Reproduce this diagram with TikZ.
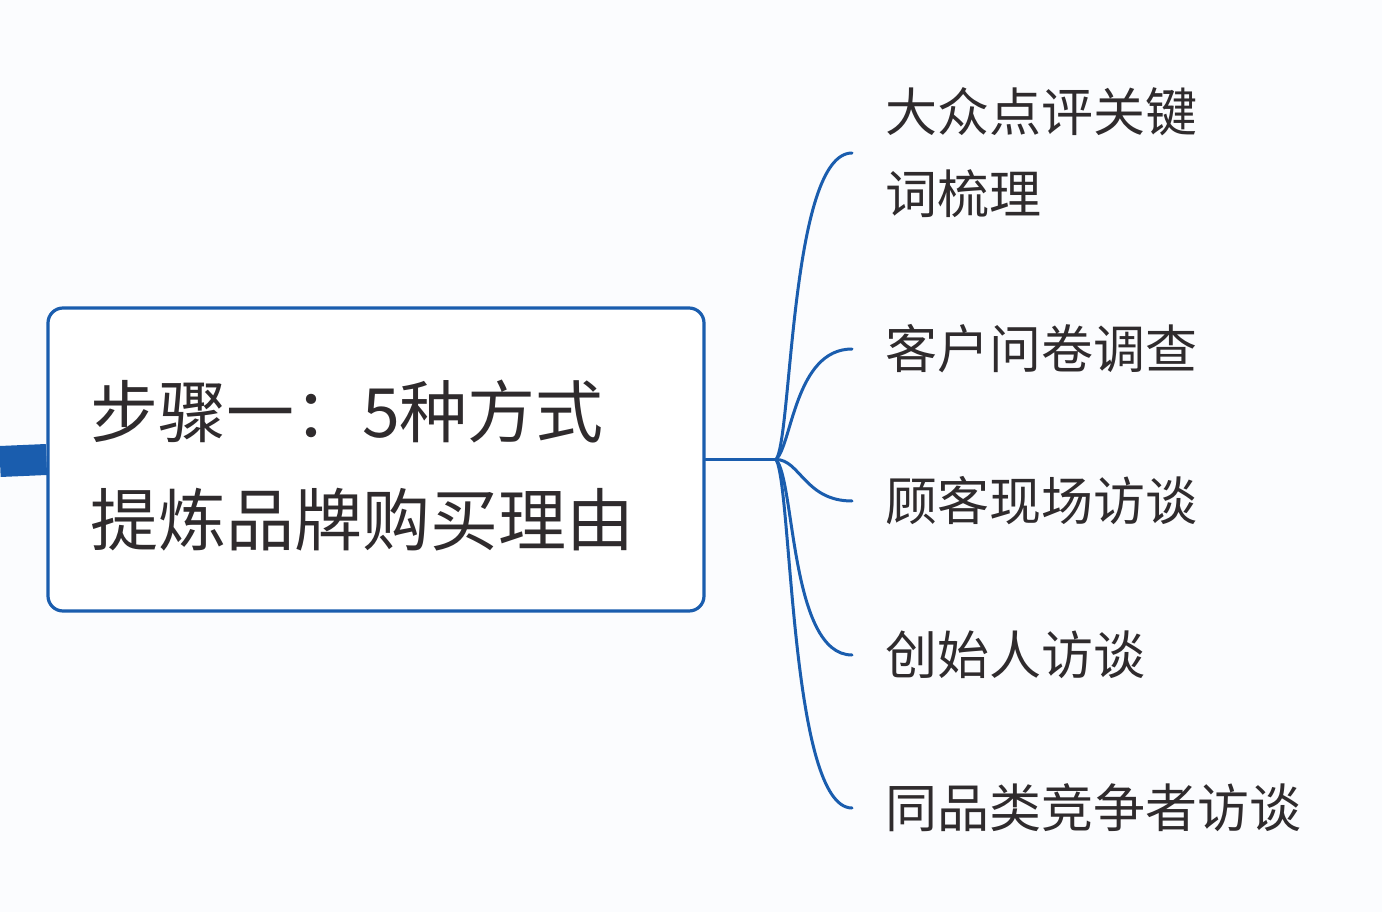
\documentclass[tikz,border=0pt]{standalone}
\usepackage{fontspec}
\setmainfont{Noto Sans CJK SC}
\definecolor{mapblue}{HTML}{1A5DAE}
\definecolor{txt}{HTML}{2F2B2D}
\definecolor{bg}{HTML}{FBFCFE}
\begin{document}
\begin{tikzpicture}[x=1pt,y=-1pt,
  mainbox/.style={draw=mapblue, line width=3.2pt, rounded corners=15pt, fill=white,
    minimum width=656pt, minimum height=303pt, inner sep=0pt, text=txt,
    font=\fontsize{68}{108}\selectfont, align=left, text width=572pt},
  leaf/.style={anchor=west, inner xsep=33pt, inner ysep=0pt, text=txt,
    font=\fontsize{52}{82}\selectfont, align=left},
  branch/.style={draw=mapblue, line width=3pt, line cap=round}]
\useasboundingbox[fill=bg] (0,0) rectangle (1382,912);
\node[mainbox] (main) at (376,459.5) {\raisebox{-6pt}{\strut}步骤一：5种方式\\提炼品牌购买理由};
\coordinate (edge) at (0,461.5);
\draw[mapblue, line width=31pt] (edge) -- (main.west);
\coordinate (j) at (776,459.5);
\draw[branch] (main.east) -- (j);
\node[leaf] (l1) at (852,153) {大众点评关键\\词梳理};
\node[leaf] (l2) at (852,349) {客户问卷调查};
\node[leaf] (l3) at (852,501) {顾客现场访谈};
\node[leaf] (l4) at (852,655) {创始人访谈};
\node[leaf] (l5) at (852,808) {同品类竞争者访谈};
\draw[branch] (j) .. controls (792,440) and (790,153) .. (l1.west);
\draw[branch] (j) .. controls (792,445) and (795,349) .. (l2.west);
\draw[branch] (j) .. controls (800,459.5) and (805,501) .. (l3.west);
\draw[branch] (j) .. controls (795,480) and (790,655) .. (l4.west);
\draw[branch] (j) .. controls (792,485) and (790,808) .. (l5.west);
\end{tikzpicture}
\end{document}
